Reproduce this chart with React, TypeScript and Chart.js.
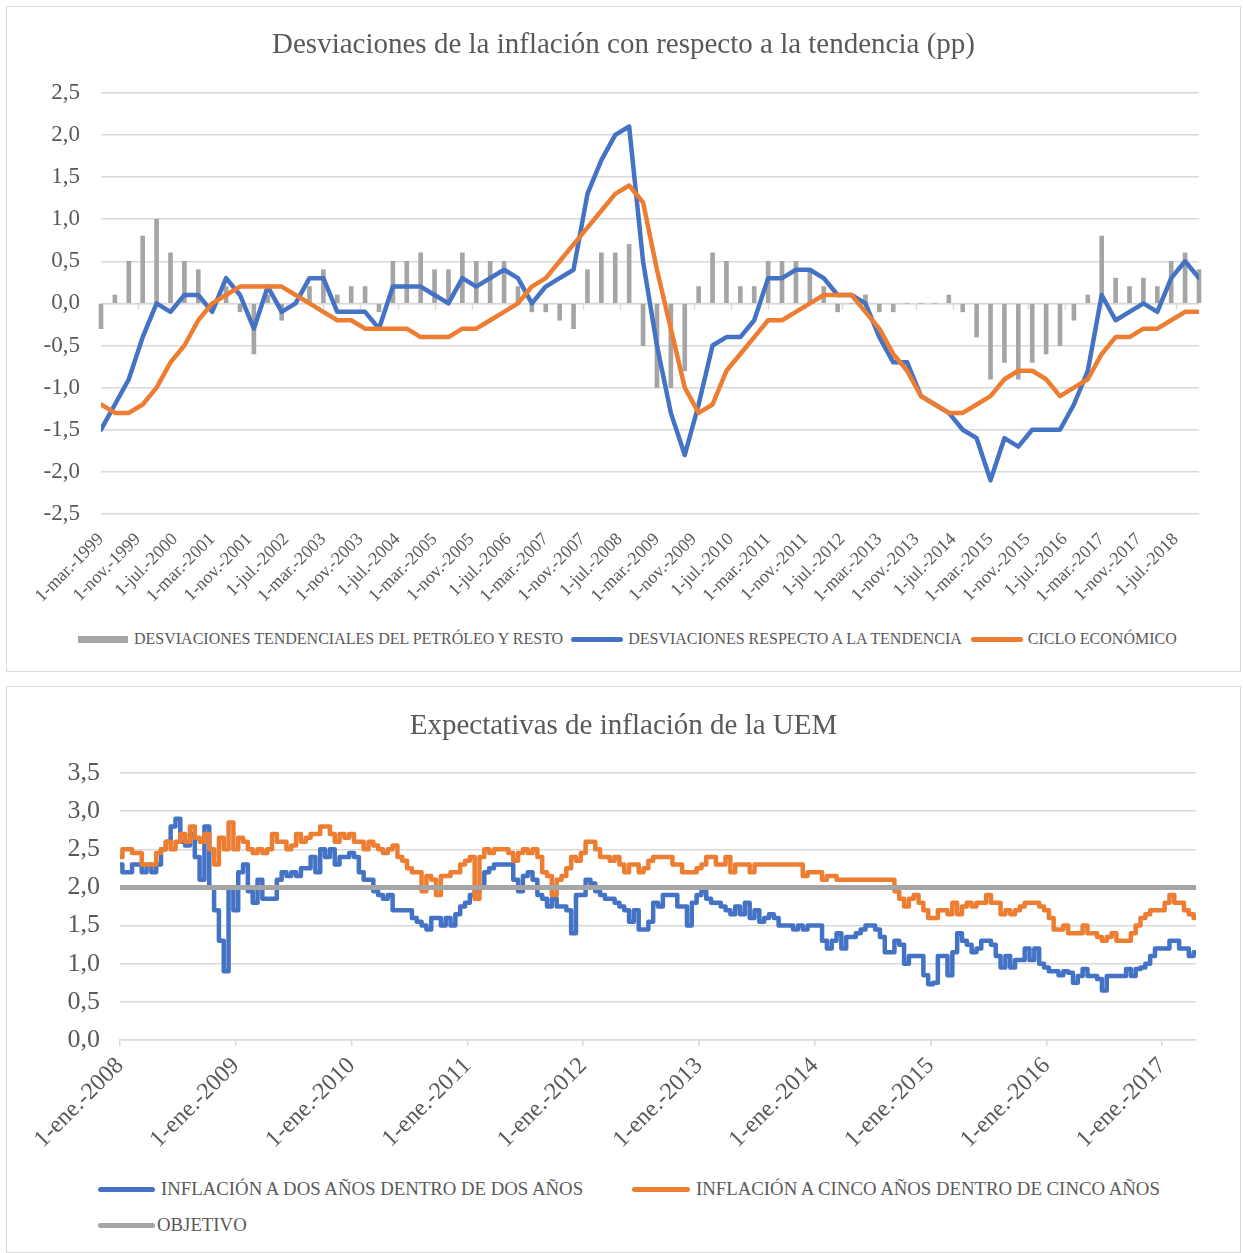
import React, { useEffect, useRef } from "react";
import { Chart, registerables } from "chart.js";

Chart.register(...registerables);

const FONT = "'Liberation Serif', 'Times New Roman', serif";
const TEXT = "#595959";
const GRID = "#d9d9d9";
const BLUE = "#4472c4";
const ORANGE = "#ed7d31";
const GRAY = "#a5a5a5";

const MONTHS_ES = ["ene", "feb", "mar", "abr", "may", "jun", "jul", "ago", "sep", "oct", "nov", "dic"];

// ---------- Top chart: quarterly data from 1-mar-1999 ----------
const topTitle = "Desviaciones de la inflación con respecto a la tendencia (pp)";
const topStartYear = 1999;
const topStartMonth = 2; // March
const topMonthsPerPoint = 3;
const topXTickMonths = [0, 8, 16, 24, 32, 40, 48, 56, 64, 72, 80, 88, 96, 104, 112, 120, 128, 136, 144, 152, 160, 168, 176, 184, 192, 200, 208, 216, 224, 232];
const topYTicks = [-2.5, -2, -1.5, -1, -0.5, 0, 0.5, 1, 1.5, 2, 2.5];

const petroleoResto = [
  -0.3, 0.1, 0.5, 0.8, 1.0, 0.6, 0.5, 0.4, 0.0, 0.2,
  -0.1, -0.6, 0.1, -0.2, 0.0, 0.2, 0.4, 0.1, 0.2, 0.2,
  -0.1, 0.5, 0.5, 0.6, 0.4, 0.4, 0.6, 0.5, 0.5, 0.5,
  0.2, -0.1, -0.1, -0.2, -0.3, 0.4, 0.6, 0.6, 0.7, -0.5,
  -1.0, -1.0, -0.8, 0.2, 0.6, 0.5, 0.2, 0.2, 0.5, 0.5,
  0.5, 0.4, 0.2, -0.1, 0.0, 0.1, -0.1, -0.1, 0.0, 0.0,
  0.0, 0.1, -0.1, -0.4, -0.9, -0.7, -0.9, -0.7, -0.6, -0.5,
  -0.2, 0.1, 0.8, 0.3, 0.2, 0.3, 0.2, 0.5, 0.6, 0.4,
];
const desviacionesTendencia = [
  -1.5, -1.2, -0.9, -0.4, 0.0, -0.1, 0.1, 0.1, -0.1, 0.3,
  0.1, -0.3, 0.2, -0.1, 0.0, 0.3, 0.3, -0.1, -0.1, -0.1,
  -0.3, 0.2, 0.2, 0.2, 0.1, 0.0, 0.3, 0.2, 0.3, 0.4,
  0.3, 0.0, 0.2, 0.3, 0.4, 1.3, 1.7, 2.0, 2.1, 0.5,
  -0.5, -1.3, -1.8, -1.2, -0.5, -0.4, -0.4, -0.2, 0.3, 0.3,
  0.4, 0.4, 0.3, 0.1, 0.1, 0.0, -0.4, -0.7, -0.7, -1.1,
  -1.2, -1.3, -1.5, -1.6, -2.1, -1.6, -1.7, -1.5, -1.5, -1.5,
  -1.2, -0.8, 0.1, -0.2, -0.1, 0.0, -0.1, 0.3, 0.5, 0.3,
];
const cicloEconomico = [
  -1.2, -1.3, -1.3, -1.2, -1.0, -0.7, -0.5, -0.2, 0.0, 0.1,
  0.2, 0.2, 0.2, 0.2, 0.1, 0.0, -0.1, -0.2, -0.2, -0.3,
  -0.3, -0.3, -0.3, -0.4, -0.4, -0.4, -0.3, -0.3, -0.2, -0.1,
  0.0, 0.2, 0.3, 0.5, 0.7, 0.9, 1.1, 1.3, 1.4, 1.2,
  0.4, -0.3, -1.0, -1.3, -1.2, -0.8, -0.6, -0.4, -0.2, -0.2,
  -0.1, 0.0, 0.1, 0.1, 0.1, -0.1, -0.3, -0.6, -0.8, -1.1,
  -1.2, -1.3, -1.3, -1.2, -1.1, -0.9, -0.8, -0.8, -0.9, -1.1,
  -1.0, -0.9, -0.6, -0.4, -0.4, -0.3, -0.3, -0.2, -0.1, -0.1,
];
const topLegend = [
  { label: "DESVIACIONES TENDENCIALES DEL PETRÓLEO Y RESTO", color: GRAY, kind: "box" },
  { label: "DESVIACIONES RESPECTO A LA TENDENCIA", color: BLUE, kind: "line" },
  { label: "CICLO ECONÓMICO", color: ORANGE, kind: "line" },
];

// ---------- Bottom chart: half-monthly readings from 1-ene-2008 ----------
const bottomTitle = "Expectativas de inflación de la UEM";
const bottomStartYear = 2008;
const bottomMonthsPerPoint = 0.5;
const bottomXTickMonths = [0, 12, 24, 36, 48, 60, 72, 84, 96, 108];
const bottomYTicks = [0, 0.5, 1, 1.5, 2, 2.5, 3, 3.5];

const inflacionDosEnDos = [
  2.3, 2.2, 2.2, 2.3, 2.3, 2.2, 2.3, 2.2, 2.3, 2.5,
  2.6, 2.8, 2.9, 2.6, 2.55, 2.7, 2.4, 2.1, 2.8, 2.0,
  1.7, 1.3, 0.9, 2.0, 1.7, 2.2, 2.3, 1.95, 1.8, 2.1,
  1.85, 1.85, 1.85, 2.1, 2.2, 2.15, 2.2, 2.15, 2.25, 2.25,
  2.4, 2.2, 2.5, 2.4, 2.5, 2.3, 2.4, 2.4, 2.45, 2.4,
  2.2, 2.1, 2.1, 1.95, 1.9, 1.85,
  1.9, 1.7, 1.7, 1.7, 1.7, 1.6, 1.55, 1.5, 1.45, 1.6,
  1.6, 1.5, 1.6, 1.5, 1.65, 1.75, 1.8, 1.9, 1.95, 2.0,
  2.2, 2.25, 2.3, 2.3, 2.3, 2.3, 2.1, 1.95, 2.15, 2.2,
  2.1, 1.9, 1.85, 1.75, 1.85, 1.75, 1.75, 1.7, 1.4, 1.9,
  1.9, 2.1, 2.05, 1.95, 1.9, 1.85, 1.85, 1.8, 1.75, 1.7,
  1.55, 1.7, 1.45, 1.45, 1.55, 1.8,
  1.75, 1.9, 1.9, 1.9, 1.75, 1.75, 1.5, 1.8,
  1.9, 1.95, 1.85, 1.8, 1.8, 1.75, 1.7, 1.65, 1.75, 1.65,
  1.8, 1.6, 1.7, 1.55, 1.6, 1.65, 1.6, 1.5, 1.5, 1.5,
  1.45, 1.5, 1.45, 1.5, 1.5, 1.5, 1.3, 1.2, 1.3, 1.4,
  1.2, 1.35, 1.35, 1.4, 1.45, 1.5, 1.5, 1.45, 1.35, 1.15,
  1.15, 1.3, 1.25, 1.0, 1.1, 1.1, 1.1, 0.85,
  0.73, 0.75, 1.1, 1.1, 0.85, 1.15, 1.4, 1.3, 1.25, 1.15,
  1.2, 1.3, 1.3, 1.25, 1.1, 0.95, 1.1, 0.95, 1.05, 1.05,
  1.2, 1.05, 1.2, 1.0, 0.95, 0.9, 0.9, 0.85, 0.9, 0.88,
  0.75, 0.84, 0.93, 0.84, 0.84, 0.8, 0.65, 0.84, 0.84, 0.84,
  0.84, 0.93, 0.84, 0.93, 0.95, 1.0, 1.1, 1.2, 1.2, 1.2,
  1.3, 1.3, 1.2, 1.2, 1.1, 1.15,
];
const inflacionCincoEnCinco = [
  2.4, 2.5, 2.5, 2.45, 2.45, 2.3, 2.3, 2.3, 2.45, 2.5,
  2.6, 2.5, 2.6, 2.7, 2.6, 2.8, 2.65, 2.6, 2.7, 2.5,
  2.3, 2.65, 2.5, 2.85, 2.5, 2.65, 2.6, 2.5, 2.45, 2.5,
  2.45, 2.5, 2.7, 2.6, 2.6, 2.5, 2.55, 2.7, 2.6, 2.65,
  2.7, 2.7, 2.8, 2.8, 2.7, 2.6, 2.7, 2.65, 2.7, 2.6,
  2.6, 2.5, 2.6, 2.55, 2.5, 2.45,
  2.5, 2.55, 2.4, 2.35, 2.25, 2.2, 2.2, 1.95, 2.15, 2.1,
  1.9, 2.15, 2.15, 2.2, 2.2, 2.3, 2.35, 2.4, 1.85, 2.4,
  2.5, 2.45, 2.5, 2.5, 2.5, 2.45, 2.35, 2.45, 2.5, 2.45,
  2.5, 2.4, 2.2, 2.15, 1.9, 2.1, 2.15, 2.25, 2.4, 2.35,
  2.45, 2.6, 2.6, 2.5, 2.4, 2.4, 2.35, 2.4, 2.3, 2.2,
  2.3, 2.3, 2.2, 2.25, 2.35, 2.4,
  2.4, 2.4, 2.4, 2.3, 2.3, 2.2, 2.2, 2.2,
  2.25, 2.3, 2.4, 2.4, 2.3, 2.3, 2.4, 2.2, 2.3, 2.3,
  2.3, 2.2, 2.3, 2.3, 2.3, 2.3, 2.3, 2.3, 2.3, 2.3,
  2.3, 2.3, 2.15, 2.2, 2.2, 2.2, 2.1, 2.15, 2.15, 2.1,
  2.1, 2.1, 2.1, 2.1, 2.1, 2.1, 2.1, 2.1, 2.1, 2.1,
  2.1, 1.95, 1.85, 1.75, 1.85, 1.9, 1.8, 1.7,
  1.6, 1.6, 1.7, 1.7, 1.65, 1.8, 1.65, 1.75, 1.8, 1.75,
  1.8, 1.8, 1.9, 1.8, 1.8, 1.65, 1.7, 1.65, 1.7, 1.75,
  1.8, 1.8, 1.8, 1.75, 1.7, 1.6, 1.45, 1.45, 1.5, 1.4,
  1.4, 1.4, 1.5, 1.4, 1.4, 1.35, 1.3, 1.35, 1.4, 1.3,
  1.3, 1.3, 1.4, 1.5, 1.6, 1.65, 1.7, 1.7, 1.7, 1.8,
  1.9, 1.8, 1.8, 1.7, 1.65, 1.6,
];
const objetivo = 2.0;
const bottomLegendRow1 = [
  { label: "INFLACIÓN A DOS AÑOS DENTRO DE DOS AÑOS", color: BLUE },
  { label: "INFLACIÓN A CINCO AÑOS DENTRO DE CINCO AÑOS", color: ORANGE },
];
const bottomLegendRow2 = [{ label: "OBJETIVO", color: GRAY }];

// ---------- helpers ----------
function dateLabel(startYear: number, startMonth: number, offset: number) {
  const total = startMonth + Math.round(offset);
  const y = startYear + Math.floor(total / 12);
  const m = ((total % 12) + 12) % 12;
  return `1-${MONTHS_ES[m]}.-${y}`;
}
const fmtComma = (v: number) => Number(v).toFixed(1).replace(".", ",").replace("-0,0", "0,0");

const zeroAxisPlugin = {
  id: "zeroAxis",
  beforeDatasetsDraw(chart: any, _args: any, opts: any) {
    if (!opts || !opts.enabled) return;
    const { ctx, chartArea, scales } = chart;
    const y0 = scales.y.getPixelForValue(0);
    ctx.save();
    ctx.strokeStyle = GRID;
    ctx.lineWidth = 1.5;
    ctx.beginPath();
    ctx.moveTo(chartArea.left, y0);
    ctx.lineTo(chartArea.right, y0);
    for (const m of opts.ticks) {
      const x = Math.round(scales.x.getPixelForValue(m)) + 0.5;
      ctx.moveTo(x, y0);
      ctx.lineTo(x, y0 + 6);
    }
    ctx.stroke();
    ctx.restore();
  },
};

function TopChart() {
  const ref = useRef<HTMLCanvasElement | null>(null);
  useEffect(() => {
    if (!ref.current) return;
    const pts = (arr: number[]) => arr.map((v, i) => ({ x: i * topMonthsPerPoint, y: v }));
    const chart = new Chart(ref.current, {
      type: "bar",
      data: {
        datasets: [
          {
            type: "bar",
            label: topLegend[0].label,
            data: pts(petroleoResto),
            backgroundColor: GRAY,
            barThickness: 4,
            order: 3,
            clip: false,
          } as any,
          {
            type: "line",
            label: topLegend[1].label,
            data: pts(desviacionesTendencia),
            borderColor: BLUE,
            backgroundColor: BLUE,
            borderWidth: 4.5,
            pointRadius: 0,
            tension: 0,
            borderJoinStyle: "round",
            borderCapStyle: "round",
            order: 2,
          } as any,
          {
            type: "line",
            label: topLegend[2].label,
            data: pts(cicloEconomico),
            borderColor: ORANGE,
            backgroundColor: ORANGE,
            borderWidth: 4.5,
            pointRadius: 0,
            tension: 0,
            borderJoinStyle: "round",
            borderCapStyle: "round",
            order: 1,
          } as any,
        ],
      },
      options: {
        responsive: false,
        animation: false,
        devicePixelRatio: 1,
        layout: { padding: 0 },
        plugins: {
          legend: { display: false },
          tooltip: { enabled: false },
          title: {
            display: true,
            text: topTitle,
            color: TEXT,
            font: { family: FONT, size: 29, weight: "normal" },
            padding: { top: 21, bottom: 30 },
          },
          zeroAxis: { enabled: true, ticks: topXTickMonths },
        } as any,
        scales: {
          x: {
            type: "linear",
            offset: false,
            min: 0,
            max: (petroleoResto.length - 1) * topMonthsPerPoint,
            grid: { display: false, offset: false },
            border: { display: false },
            afterBuildTicks: (s: any) => {
              s.ticks = topXTickMonths.map((v) => ({ value: v }));
            },
            afterFit: (s: any) => {
              s.height = 93;
              s.paddingLeft = 0;
              s.paddingRight = 41;
            },
            ticks: {
              autoSkip: false,
              minRotation: 45,
              maxRotation: 45,
              padding: 7,
              color: TEXT,
              font: { family: FONT, size: 18 },
              callback: (v: any) => dateLabel(topStartYear, topStartMonth, Number(v)),
            },
          },
          y: {
            min: -2.5,
            max: 2.5,
            afterBuildTicks: (s: any) => {
              s.ticks = topYTicks.map((v) => ({ value: v }));
            },
            afterFit: (s: any) => {
              s.width = 94;
            },
            grid: { color: GRID, lineWidth: 1.5, drawTicks: false },
            border: { display: false },
            ticks: {
              padding: 21,
              color: TEXT,
              font: { family: FONT, size: 23 },
              callback: (v: any) => fmtComma(Number(v)),
            },
          },
        },
      },
      plugins: [zeroAxisPlugin],
    } as any);
    return () => chart.destroy();
  }, []);
  return <canvas ref={ref} width={1233} height={600} style={{ position: "absolute", left: 0, top: 0 }} />;
}

function BottomChart() {
  const ref = useRef<HTMLCanvasElement | null>(null);
  useEffect(() => {
    if (!ref.current) return;
    const pts = (arr: number[]) => arr.map((v, i) => ({ x: i * bottomMonthsPerPoint, y: v }));
    const lastX = (inflacionDosEnDos.length - 1) * bottomMonthsPerPoint;
    const chart = new Chart(ref.current, {
      type: "line",
      data: {
        datasets: [
          {
            label: bottomLegendRow1[0].label,
            data: pts(inflacionDosEnDos),
            borderColor: BLUE,
            backgroundColor: BLUE,
            borderWidth: 4.5,
            pointRadius: 0,
            stepped: "middle",
            borderJoinStyle: "round",
            borderCapStyle: "round",
            order: 3,
          },
          {
            label: bottomLegendRow1[1].label,
            data: pts(inflacionCincoEnCinco),
            borderColor: ORANGE,
            backgroundColor: ORANGE,
            borderWidth: 4.5,
            pointRadius: 0,
            stepped: "middle",
            borderJoinStyle: "round",
            borderCapStyle: "round",
            order: 2,
          },
          {
            label: bottomLegendRow2[0].label,
            data: [
              { x: 0, y: objetivo },
              { x: lastX, y: objetivo },
            ],
            borderColor: GRAY,
            backgroundColor: GRAY,
            borderWidth: 5,
            pointRadius: 0,
            borderCapStyle: "round",
            order: 1,
          },
        ],
      },
      options: {
        responsive: false,
        animation: false,
        devicePixelRatio: 1,
        layout: { padding: 0 },
        plugins: {
          legend: { display: false },
          tooltip: { enabled: false },
          title: {
            display: true,
            text: bottomTitle,
            color: TEXT,
            font: { family: FONT, size: 29, weight: "normal" },
            padding: { top: 21.6, bottom: 29.6 },
          },
        },
        scales: {
          x: {
            type: "linear",
            min: 0,
            max: lastX,
            grid: { display: true, drawOnChartArea: false, color: GRID, lineWidth: 1.5, tickLength: 6 },
            border: { display: true, color: GRID, width: 1.5 },
            afterBuildTicks: (s: any) => {
              s.ticks = bottomXTickMonths.map((v) => ({ value: v }));
            },
            afterFit: (s: any) => {
              s.height = 127;
              s.paddingLeft = 0;
              s.paddingRight = 44;
            },
            ticks: {
              autoSkip: false,
              minRotation: 45,
              maxRotation: 45,
              padding: 6,
              color: TEXT,
              font: { family: FONT, size: 24 },
              callback: (v: any) => dateLabel(bottomStartYear, 0, Number(v)),
            },
          },
          y: {
            min: 0,
            max: 3.5,
            afterBuildTicks: (s: any) => {
              s.ticks = bottomYTicks.map((v) => ({ value: v }));
            },
            afterFit: (s: any) => {
              s.width = 113;
            },
            grid: { color: GRID, lineWidth: 1.5, drawTicks: false },
            border: { display: false },
            ticks: {
              padding: 20,
              color: TEXT,
              font: { family: FONT, size: 26 },
              callback: (v: any) => fmtComma(Number(v)),
            },
          },
        },
      },
    } as any);
    return () => chart.destroy();
  }, []);
  return <canvas ref={ref} width={1233} height={480} style={{ position: "absolute", left: 0, top: 0 }} />;
}

function Marker({ color, kind, width }: { color: string; kind: string; width: number }) {
  return (
    <span
      style={{
        display: "inline-block",
        width,
        height: kind === "box" ? 7 : 5,
        background: color,
        borderRadius: kind === "box" ? 0 : 3,
        flex: "none",
      }}
    />
  );
}

export default function App() {
  const legendText: React.CSSProperties = { fontFamily: FONT, color: TEXT, whiteSpace: "nowrap" };
  return (
    <div style={{ position: "absolute", left: 0, top: 0, width: 1243, height: 1253, background: "#fff" }}>
      <div
        style={{
          position: "absolute",
          left: 6,
          top: 6,
          width: 1233,
          height: 664,
          border: `1px solid ${GRID}`,
          background: "#fff",
          overflow: "hidden",
        }}
      >
        <TopChart />
        <div
          style={{
            position: "absolute",
            left: 71,
            top: 622,
            height: 20,
            display: "flex",
            alignItems: "center",
            ...legendText,
            fontSize: 16,
          }}
        >
          <Marker color={topLegend[0].color} kind="box" width={50} />
          <span style={{ marginLeft: 6, marginRight: 8 }}>{topLegend[0].label}</span>
          <Marker color={topLegend[1].color} kind="line" width={52} />
          <span style={{ marginLeft: 5, marginRight: 9 }}>{topLegend[1].label}</span>
          <Marker color={topLegend[2].color} kind="line" width={52} />
          <span style={{ marginLeft: 5 }}>{topLegend[2].label}</span>
        </div>
      </div>
      <div
        style={{
          position: "absolute",
          left: 6,
          top: 686,
          width: 1233,
          height: 565,
          border: `1px solid ${GRID}`,
          background: "#fff",
          overflow: "hidden",
        }}
      >
        <BottomChart />
        <div style={{ position: "absolute", left: 91, top: 491, height: 22, display: "flex", alignItems: "center", ...legendText, fontSize: 18.8 }}>
          <Marker color={bottomLegendRow1[0].color} kind="line" width={57} />
          <span style={{ marginLeft: 6 }}>{bottomLegendRow1[0].label}</span>
        </div>
        <div style={{ position: "absolute", left: 625, top: 491, height: 22, display: "flex", alignItems: "center", ...legendText, fontSize: 18.8 }}>
          <Marker color={bottomLegendRow1[1].color} kind="line" width={58} />
          <span style={{ marginLeft: 6 }}>{bottomLegendRow1[1].label}</span>
        </div>
        <div style={{ position: "absolute", left: 91, top: 527, height: 22, display: "flex", alignItems: "center", ...legendText, fontSize: 18.8 }}>
          <Marker color={bottomLegendRow2[0].color} kind="line" width={57} />
          <span style={{ marginLeft: 2 }}>{bottomLegendRow2[0].label}</span>
        </div>
      </div>
    </div>
  );
}
